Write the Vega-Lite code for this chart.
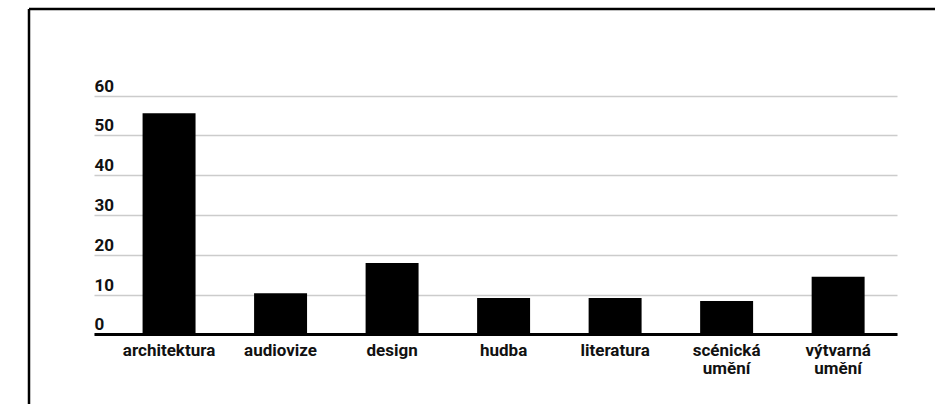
{
  "$schema": "https://vega.github.io/schema/vega-lite/v6.json",
  "width": 906,
  "height": 395,
  "autosize": {"type": "none"},
  "padding": {"left": 29, "top": 9, "right": 0, "bottom": 0},
  "background": "#ffffff",
  "config": {"view": {"stroke": null}, "font": "Roboto"},
  "data": {
    "values": [
      {"obor": "architektura", "pocet": 55.6},
      {"obor": "audiovize", "pocet": 10.3},
      {"obor": "design", "pocet": 17.9},
      {"obor": "hudba", "pocet": 9.1},
      {"obor": "literatura", "pocet": 9.1},
      {"obor": "scénická umění", "pocet": 8.4},
      {"obor": "výtvarná umění", "pocet": 14.5}
    ]
  },
  "resolve": {
    "scale": {"x": "independent"},
    "axis": {"x": "independent", "y": "independent"}
  },
  "layer": [
    {
      "mark": {"type": "bar", "color": "#000000"},
      "encoding": {
        "x": {
          "field": "obor",
          "type": "nominal",
          "sort": null,
          "scale": {"range": [65, 868], "paddingInner": 0.525, "paddingOuter": 0.363, "align": 0.6},
          "axis": {
            "orient": "bottom",
            "offset": -70,
            "title": null,
            "labelAngle": 0,
            "ticks": false,
            "domainColor": "#000000",
            "domainWidth": 3,
            "labelFont": "Roboto",
            "labelFontWeight": "bold",
            "labelFontSize": 17,
            "labelColor": "#111111",
            "labelPadding": 8,
            "labelBaseline": "top",
            "labelLineHeight": 18.5,
            "labelLimit": 0,
            "labelExpr": "split(datum.label, ' ')"
          }
        },
        "y": {
          "field": "pocet",
          "type": "quantitative",
          "scale": {"domain": [-17.53, 81.8], "nice": false, "zero": false},
          "axis": {
            "orient": "left",
            "offset": -65,
            "values": [0, 10, 20, 30, 40, 50, 60],
            "title": null,
            "ticks": false,
            "domain": false,
            "grid": true,
            "gridColor": "#cccccc",
            "gridWidth": 1.3,
            "labelAlign": "left",
            "labelBaseline": "alphabetic",
            "labelPadding": 0,
            "labelOffset": -4.5,
            "labelFont": "Roboto",
            "labelFontWeight": "bold",
            "labelFontSize": 17,
            "labelColor": "#111111"
          }
        }
      }
    },
    {
      "data": {"values": [{"ramecek": "horni"}]},
      "mark": {"type": "rule", "color": "#000000", "strokeWidth": 2.5},
      "encoding": {
        "y": {"datum": 81.8, "type": "quantitative", "axis": null}
      }
    },
    {
      "data": {"values": [{"ramecek": "levy"}]},
      "mark": {"type": "rule", "color": "#000000", "strokeWidth": 2.5},
      "encoding": {
        "x": {"datum": 0, "type": "quantitative", "scale": {"domain": [0, 1]}, "axis": null}
      }
    }
  ]
}
